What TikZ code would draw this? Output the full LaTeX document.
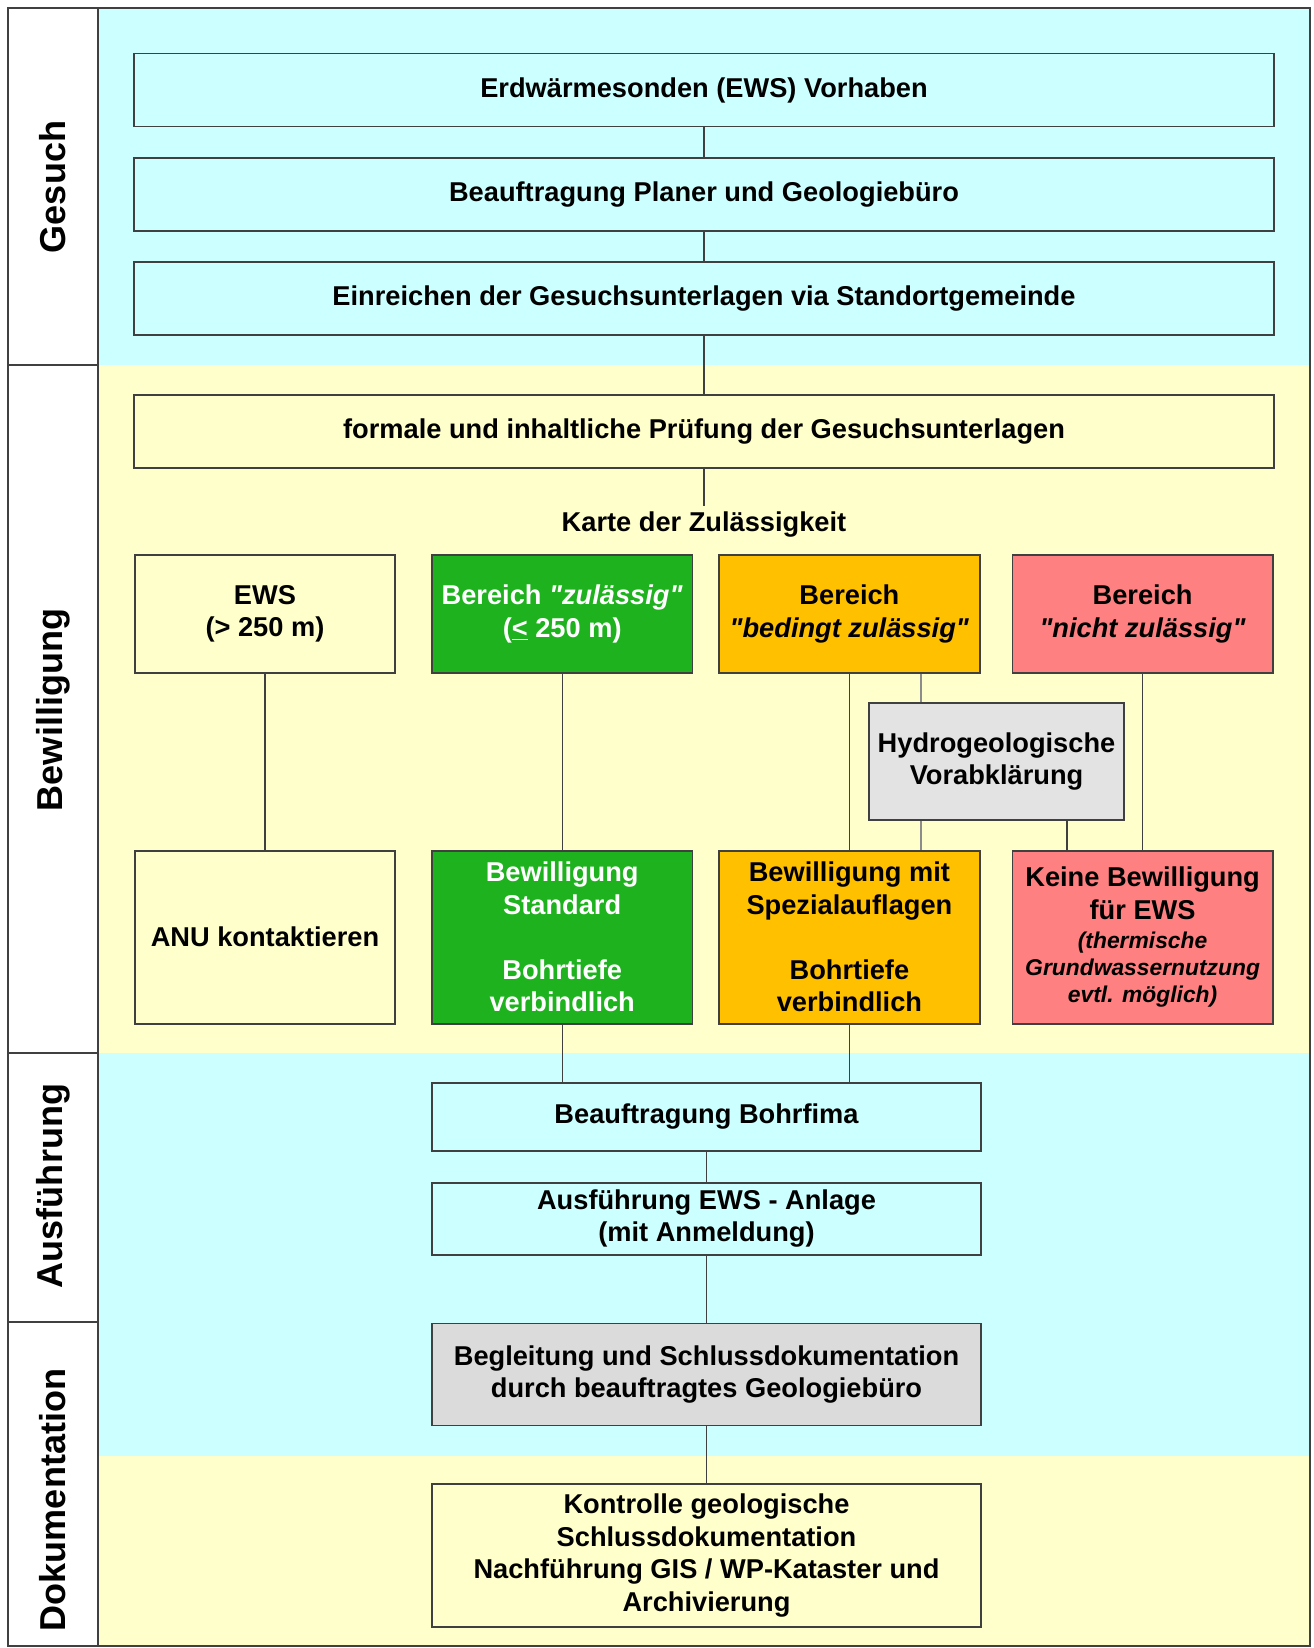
\documentclass[tikz,border=0pt]{standalone}
\usepackage{fontspec}
\setmainfont{Liberation Sans}[Ligatures=TeXOff]
\usepackage{xcolor}
\usetikzlibrary{positioning, calc}

\definecolor{cyanbg}{HTML}{CCFFFF}
\definecolor{yellowbg}{HTML}{FFFFCC}
\definecolor{okgreen}{HTML}{1FB21F}
\definecolor{condorange}{HTML}{FFC000}
\definecolor{nored}{HTML}{FF8080}
\definecolor{hydrogray}{HTML}{E3E3E3}
\definecolor{frameline}{HTML}{404040}
\newcommand{\noteit}{\itshape\fontsize{13}{15}\selectfont}

\begin{document}
\begin{tikzpicture}[
  x=0.02cm, y=-0.02cm,
  node distance=0.6cm and 0.6cm,
  every node/.style={font=\bfseries\fontsize{15.5}{18.5}\selectfont},
  box/.style={draw=frameline, line width=1pt, rectangle, align=center, inner sep=2pt},
  wide/.style={box, fill=cyanbg, minimum width=22.79cm, minimum height=1.46cm},
  zone/.style={box, minimum width=5.21cm, minimum height=2.36cm},
  result/.style={box, minimum width=5.21cm, minimum height=3.46cm},
  mid/.style={box, fill=cyanbg, minimum width=10.98cm},
  lane/.style={rotate=90, font=\bfseries\fontsize{20.5}{24}\selectfont},
  link/.style={draw=frameline, line width=0.7pt}
]
\useasboundingbox (0,0) rectangle (1313,1648);

% Backgrounds
\fill[cyanbg] (98,8) rectangle (1310,365);
\fill[yellowbg] (98,365) rectangle (1310,1053);
\fill[cyanbg] (98,1053) rectangle (1310,1456);
\fill[yellowbg] (98,1456) rectangle (1310,1646);
\draw[frameline, line width=1pt] (8,8) rectangle (1310,1646);
\draw[frameline, line width=1pt] (98,8) -- (98,1646);
\draw[frameline, line width=1pt] (8,365) -- (98,365);
\draw[frameline, line width=1pt] (8,1053) -- (98,1053);
\draw[frameline, line width=1pt] (8,1322) -- (98,1322);

% Lanes
\node[lane] (gesuch) at (53,187) {Gesuch};
\node[lane] (bewilligung) at (53,710) {Bewilligung};
\node[lane] (ausfuehrung) at (53,1186) {Ausführung};
\node[lane] (doku) at (53,1500) {Dokumentation};

% Nodes
\node[wide] (erdw) at (704,90) {Erdwärmesonden (EWS) Vorhaben};
\node[wide, below=of erdw] (planer) {Beauftragung Planer und Geologiebüro};
\node[wide, below=0.58cm of planer] (einreichen) {Einreichen der Gesuchsunterlagen via Standortgemeinde};
\node[wide, fill=yellowbg, below=1.16cm of einreichen] (pruefung) {formale und inhaltliche Prüfung der Gesuchsunterlagen};
\node (karte) at (704,525) {Karte der Zulässigkeit};

\node[zone, fill=yellowbg] (ews) at (265,614) {EWS\\(> 250 m)};
\node[zone, fill=okgreen, text=white, right=0.7cm of ews] (zul) {Bereich \textit{"zulässig"}\\(\underline{<} 250 m)};
\node[zone, fill=condorange, right=0.5cm of zul] (bed) {Bereich\\\textit{"bedingt zulässig"}};
\node[zone, fill=nored, right=0.62cm of bed] (nicht) {Bereich\\\textit{"nicht zulässig"}};

\node[box, fill=hydrogray, minimum width=5.1cm, minimum height=2.34cm] (hydro) at (996.5,761.5)
  {Hydrogeologische\\Vorabklärung};

\node[result, fill=yellowbg, below=3.52cm of ews] (anu) {ANU kontaktieren};
\node[result, fill=okgreen, text=white, below=3.52cm of zul] (std)
  {Bewilligung\\Standard\\[18.5pt]Bohrtiefe\\verbindlich};
\node[result, fill=condorange, below=3.52cm of bed] (spez)
  {Bewilligung mit\\Spezialauflagen\\[18.5pt]Bohrtiefe\\verbindlich};
\node[result, fill=nored, below=3.52cm of nicht] (keine)
  {Keine Bewilligung\\für EWS\\[-2pt]{\noteit (thermische}\\[-3pt]{\noteit Grundwassernutzung}\\[-3pt]{\noteit evtl. möglich)}};

\node[mid, minimum height=1.36cm] (bohr) at (706.5,1117) {Beauftragung Bohrfima};
\node[mid, minimum height=1.44cm, below=0.6cm of bohr] (ausf) {Ausführung EWS - Anlage\\(mit Anmeldung)};
\node[mid, fill=black!14, minimum height=2.04cm, below=1.34cm of ausf] (begl)
  {Begleitung und Schlussdokumentation\\durch beauftragtes Geologiebüro};
\node[mid, fill=yellowbg, minimum height=2.86cm, below=1.14cm of begl] (kontr)
  {Kontrolle geologische\\Schlussdokumentation\\Nachführung GIS / WP-Kataster und\\Archivierung};

% Connectors
\draw[link] (erdw) -- (planer);
\draw[link] (planer) -- (einreichen);
\draw[link] (einreichen) -- (pruefung);
\draw[link] (pruefung) -- (karte);
\draw[link] (ews) -- (anu);
\draw[link] (zul) -- (std);
\draw[link] (bed) -- (spez);
\draw[link] (nicht) -- (keine);
\draw[link, draw=black!45] ([xshift=-1.51cm]hydro.north) -- ([xshift=-1.51cm]hydro.north |- bed.south);
\draw[link, draw=black!45] ([xshift=-1.51cm]hydro.south) -- ([xshift=-1.51cm]hydro.south |- spez.north);
\draw[link] ([xshift=1.41cm]hydro.south) -- ([xshift=1.41cm]hydro.south |- keine.north);
\draw[link] (std) -- (std |- bohr.north);
\draw[link] (spez) -- (spez |- bohr.north);
\draw[link] (bohr) -- (ausf);
\draw[link] (ausf) -- (begl);
\draw[link] (begl) -- (kontr);
\end{tikzpicture}
\end{document}
